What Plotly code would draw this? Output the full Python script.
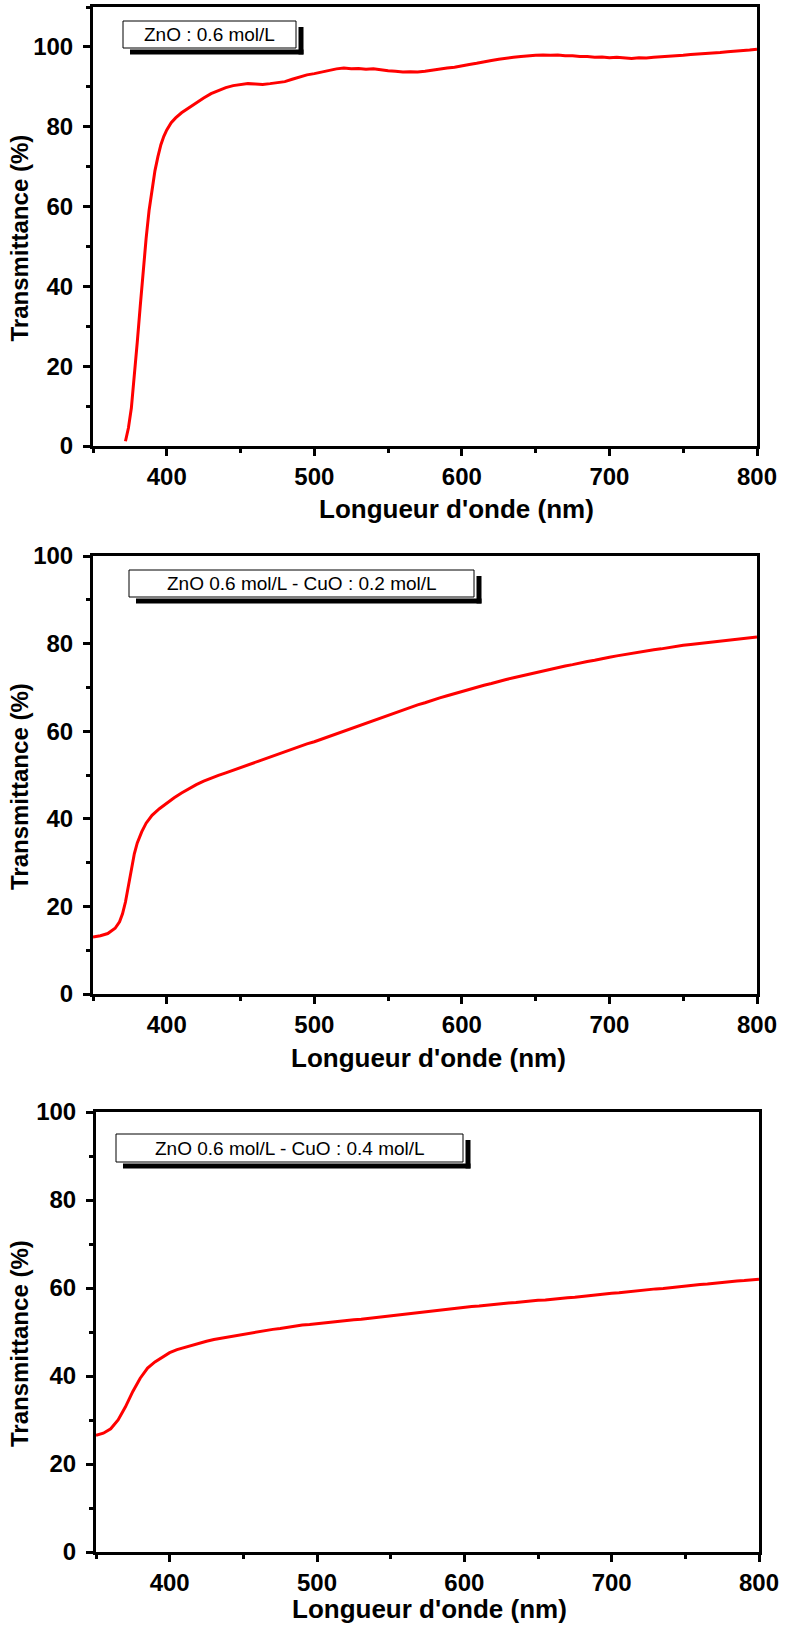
import plotly.graph_objects as go

# ---- Spectra: wavelength (nm) and transmittance (%) ----
wl_zno = [372, 374, 376, 378, 380, 382, 384, 386, 388, 390, 392, 394, 396, 398, 400,
          403, 406, 410, 415, 420, 425, 430, 435, 440, 445, 450, 455, 460, 465, 470,
          475, 480, 485, 490, 495, 500, 505, 510, 515, 520, 525, 530, 535, 540, 545,
          550, 555, 560, 565, 570, 575, 580, 585, 590, 595, 600, 605, 610, 615, 620,
          625, 630, 635, 640, 645, 650, 655, 660, 665, 670, 675, 680, 685, 690, 695,
          700, 705, 710, 715, 720, 725, 730, 735, 740, 745, 750, 755, 760, 765, 770,
          775, 780, 785, 790, 795, 800]
t_zno = [1.2, 4.5, 9.5, 17.0, 26.0, 35.0, 44.0, 52.0, 59.0, 64.5, 69.0, 72.5, 75.5, 77.6, 79.2,
         81.0, 82.2, 83.5, 84.8, 86.0, 87.2, 88.3, 89.1, 89.8, 90.3, 90.6, 90.8, 90.7, 90.6, 90.8,
         91.0, 91.3, 91.9, 92.5, 93.0, 93.3, 93.7, 94.1, 94.5, 94.7, 94.5, 94.6, 94.4, 94.5, 94.2,
         94.0, 93.9, 93.7, 93.8, 93.7, 93.9, 94.2, 94.4, 94.7, 94.9, 95.3, 95.6, 95.9, 96.3, 96.6,
         96.9, 97.2, 97.4, 97.6, 97.8, 97.9, 98.0, 97.9, 98.0, 97.8, 97.8, 97.6, 97.6, 97.4, 97.5,
         97.3, 97.4, 97.3, 97.1, 97.3, 97.2, 97.4, 97.5, 97.6, 97.8, 97.9, 98.1, 98.2, 98.4, 98.4,
         98.6, 98.8, 98.9, 99.1, 99.2, 99.4]

wl_cu02 = [350, 355, 360, 365, 368, 370, 372, 374, 376, 378, 380, 383, 386, 390, 395,
           400, 405, 410, 415, 420, 425, 430, 435, 440, 445, 450, 455, 460, 465, 470,
           475, 480, 485, 490, 495, 500, 505, 510, 515, 520, 525, 530, 535, 540, 545,
           550, 555, 560, 565, 570, 575, 580, 585, 590, 595, 600, 605, 610, 615, 620,
           625, 630, 635, 640, 645, 650, 655, 660, 665, 670, 675, 680, 685, 690, 695,
           700, 705, 710, 715, 720, 725, 730, 735, 740, 745, 750, 755, 760, 765, 770,
           775, 780, 785, 790, 795, 800]
t_cu02 = [13.0, 13.3, 13.8, 15.0, 16.5, 18.3, 21.0, 24.5, 28.5, 32.0, 34.5, 37.0, 39.0, 40.8, 42.3,
          43.6, 44.8, 45.9, 46.9, 47.8, 48.6, 49.3, 49.9, 50.5, 51.1, 51.7, 52.3, 52.9, 53.5, 54.1,
          54.7, 55.3, 55.9, 56.6, 57.1, 57.6, 58.2, 58.8, 59.4, 60.0, 60.6, 61.3, 61.9, 62.5, 63.1,
          63.7, 64.3, 64.9, 65.4, 66.0, 66.5, 67.1, 67.6, 68.1, 68.6, 69.1, 69.6, 70.0, 70.5, 70.9,
          71.4, 71.8, 72.2, 72.6, 73.0, 73.4, 73.8, 74.1, 74.5, 74.9, 75.2, 75.6, 75.9, 76.2, 76.6,
          76.9, 77.2, 77.5, 77.8, 78.0, 78.3, 78.6, 78.8, 79.1, 79.3, 79.6, 79.8, 80.0, 80.2, 80.4,
          80.6, 80.8, 81.0, 81.2, 81.4, 81.5]

wl_cu04 = [350, 355, 360, 365, 370, 375, 380, 385, 390, 395, 400, 405, 410, 415, 420,
           425, 430, 435, 440, 445, 450, 455, 460, 465, 470, 475, 480, 485, 490, 495,
           500, 505, 510, 515, 520, 525, 530, 535, 540, 545, 550, 555, 560, 565, 570,
           575, 580, 585, 590, 595, 600, 605, 610, 615, 620, 625, 630, 635, 640, 645,
           650, 655, 660, 665, 670, 675, 680, 685, 690, 695, 700, 705, 710, 715, 720,
           725, 730, 735, 740, 745, 750, 755, 760, 765, 770, 775, 780, 785, 790, 795, 800]
t_cu04 = [26.5, 27.0, 28.0, 30.0, 33.0, 36.5, 39.5, 41.8, 43.2, 44.3, 45.3, 46.0, 46.5, 47.0, 47.5,
          47.9, 48.3, 48.6, 48.9, 49.2, 49.5, 49.8, 50.1, 50.3, 50.6, 50.8, 51.1, 51.3, 51.6, 51.7,
          51.9, 52.1, 52.3, 52.4, 52.6, 52.8, 52.9, 53.1, 53.3, 53.5, 53.7, 53.9, 54.1, 54.3, 54.5,
          54.7, 54.9, 55.1, 55.3, 55.4, 55.6, 55.8, 55.9, 56.1, 56.3, 56.4, 56.6, 56.7, 56.9, 57.0,
          57.2, 57.3, 57.5, 57.6, 57.8, 57.9, 58.1, 58.3, 58.4, 58.6, 58.8, 58.9, 59.1, 59.3, 59.4,
          59.6, 59.8, 59.9, 60.1, 60.3, 60.4, 60.6, 60.8, 60.9, 61.1, 61.3, 61.4, 61.6, 61.7, 61.9, 62.0]

labels = ["ZnO : 0.6 mol/L", "ZnO 0.6 mol/L - CuO : 0.2 mol/L", "ZnO 0.6 mol/L - CuO : 0.4 mol/L"]
x_title = "Longueur d'onde (nm)"
y_title = "Transmittance (%)"
y_max = [110, 100, 100]

W, H = 785, 1631
FONT = "Liberation Sans, Arial, sans-serif"


def fx(p):
    return p / W


def fy(p):
    return 1 - p / H


# plot rectangles in pixels: left, right, top, bottom
panels = [
    dict(l=93, r=757, t=7, b=446),
    dict(l=93, r=757, t=556, b=994),
    dict(l=96, r=759, t=1112, b=1552),
]
# legend box geometry in pixels
boxes = [
    dict(x0=123, x1=296, y0=21, y1=48),
    dict(x0=129, x1=474, y0=570, y1=597),
    dict(x0=116, x1=463, y0=1134, y1=1162),
]
xtitle_pos = [(456, 509), (428, 1058), (429, 1609)]

fig = go.Figure()
series = [(wl_zno, t_zno), (wl_cu02, t_cu02), (wl_cu04, t_cu04)]
shapes = []
annotations = []

for i, ((xs, ys), p) in enumerate(zip(series, panels)):
    n = "" if i == 0 else str(i + 1)
    fig.add_trace(go.Scatter(x=xs, y=ys, mode="lines",
                             line=dict(color="#ff0000", width=3),
                             xaxis="x" + n, yaxis="y" + n, showlegend=False))
    axis_common = dict(
        showline=True, linecolor="black", linewidth=3, mirror=True,
        ticks="outside", ticklen=7, tickwidth=3, tickcolor="black",
        showgrid=False, zeroline=False, automargin=False,
        tickfont=dict(family=FONT, size=24, color="black", weight="bold"),
    )
    fig.update_layout(**{
        "xaxis" + n: dict(
            domain=[fx(p["l"]), fx(p["r"])], anchor="y" + n,
            range=[350, 800], tickvals=[400, 500, 600, 700, 800],
            minor=dict(tickvals=[350, 450, 550, 650, 750], ticks="outside",
                       ticklen=4, tickwidth=3, tickcolor="black"),
            ticklabelstandoff=0, **axis_common),
        "yaxis" + n: dict(
            domain=[fy(p["b"]), fy(p["t"])], anchor="x" + n,
            range=[0, y_max[i]], tickvals=[0, 20, 40, 60, 80, 100],
            minor=dict(dtick=10, ticks="outside", ticklen=4, tickwidth=3,
                       tickcolor="black"),
            ticklabelstandoff=5, **axis_common),
    })

    # legend box with offset dark shadow
    b = boxes[i]
    shapes.append(dict(type="rect", xref="paper", yref="paper",
                       x0=fx(b["x1"] + 2.5), x1=fx(b["x1"] + 7.5),
                       y0=fy(b["y1"] + 6.5), y1=fy(b["y0"] + 6),
                       fillcolor="black", line=dict(width=0)))
    shapes.append(dict(type="rect", xref="paper", yref="paper",
                       x0=fx(b["x0"] + 7), x1=fx(b["x1"] + 7.5),
                       y0=fy(b["y1"] + 6.5), y1=fy(b["y1"] + 1.5),
                       fillcolor="black", line=dict(width=0)))
    shapes.append(dict(type="rect", xref="paper", yref="paper",
                       x0=fx(b["x0"]), x1=fx(b["x1"]),
                       y0=fy(b["y1"]), y1=fy(b["y0"]),
                       fillcolor="white", line=dict(color="black", width=1)))
    annotations.append(dict(text=labels[i], xref="paper", yref="paper",
                            x=fx((b["x0"] + b["x1"]) / 2), y=fy((b["y0"] + b["y1"]) / 2),
                            showarrow=False, xanchor="center", yanchor="middle",
                            font=dict(family=FONT, size=19, color="black")))

    # axis titles
    tx, ty = xtitle_pos[i]
    annotations.append(dict(text=x_title, xref="paper", yref="paper",
                            x=fx(tx), y=fy(ty), showarrow=False,
                            xanchor="center", yanchor="middle",
                            font=dict(family=FONT, size=26, color="black", weight="bold")))
    annotations.append(dict(text=y_title, xref="paper", yref="paper",
                            x=fx(19), y=fy((p["t"] + p["b"]) / 2 + 12), showarrow=False,
                            textangle=-90, xanchor="center", yanchor="middle",
                            font=dict(family=FONT, size=24, color="black", weight="bold")))

fig.update_layout(
    width=W, height=H,
    margin=dict(l=0, r=0, t=0, b=0, autoexpand=False),
    paper_bgcolor="white", plot_bgcolor="white",
    shapes=shapes, annotations=annotations,
)

# page without default body margin so the figure fills the window exactly
fig.write_html("out.html",
               post_script="document.body.style.margin='0';"
                           "document.body.style.overflow='hidden';")
